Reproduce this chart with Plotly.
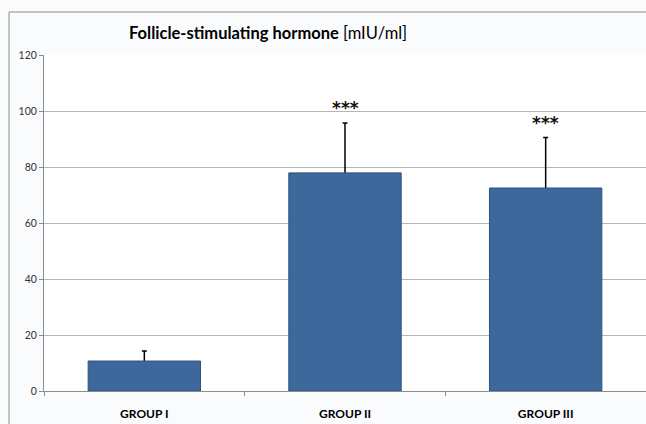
import plotly.graph_objects as go

groups = ["GROUP I", "GROUP II", "GROUP III"]
fsh_mean = [10.7, 77.9, 72.5]
fsh_sd = [3.6, 17.8, 18.0]
significance = ["", "***", "***"]
y_ticks = [0, 20, 40, 60, 80, 100, 120]

fig = go.Figure()
# error bars (drawn beneath the bars so the lower cap is hidden inside each bar)
fig.add_trace(go.Scatter(
    x=groups, y=[m + s for m, s in zip(fsh_mean, fsh_sd)], mode="markers",
    marker=dict(size=1, color="rgba(0,0,0,0)"),
    error_y=dict(type="data", array=[0] * len(fsh_sd), arrayminus=[s + 2 for s in fsh_sd],
                 symmetric=False, color="#000000", thickness=1.5, width=2.5),
    showlegend=False, hoverinfo="skip", xaxis="x", yaxis="y",
))
fig.add_trace(go.Bar(
    x=groups, y=fsh_mean, width=0.56,
    marker=dict(color="#3D689C", line=dict(color="#2E527E", width=1)),
    showlegend=False, xaxis="x", yaxis="y2",
))

for g, m, s, t in zip(groups, fsh_mean, fsh_sd, significance):
    if t:
        fig.add_annotation(x=g, y=m + s, text="<b>" + t + "</b>", showarrow=False,
                           yanchor="bottom", yshift=3,
                           font=dict(family="DejaVu Sans", size=17, color="#111111"))

fig.add_shape(type="rect", xref="paper", yref="paper",
              x0=-0.0581, x1=1.2, y0=-0.3, y1=1.128,
              line=dict(color="#8C8C8C", width=1), fillcolor="rgba(0,0,0,0)", layer="below")

fig.add_annotation(xref="paper", yref="paper", x=(268 - 44) / 602, y=1 + (55 - 33) / 336,
                   text="<b>Follicle-stimulating hormone</b> [mIU/ml]", showarrow=False,
                   xanchor="center", yanchor="middle",
                   font=dict(family="Lato", size=16.5, color="#000000"))

fig.update_layout(
    width=646, height=424,
    margin=dict(l=44, r=0, t=55, b=33),
    paper_bgcolor="#FAFBFD", plot_bgcolor="#FFFFFF",
    bargap=0.44,
    xaxis=dict(range=[-0.5, 2.5], showline=True, linecolor="#8C8C8C", linewidth=1,
               ticks="outside", tickson="boundaries", ticklen=4, tickcolor="#8C8C8C",
               tickfont=dict(family="Lato", size=12, color="#000000", weight="bold"),
               ticklabelstandoff=12, showgrid=False),
    yaxis=dict(range=[0, 120], tickvals=y_ticks, showline=True, linecolor="#8C8C8C", linewidth=1,
               ticks="outside", ticklen=4, tickcolor="#8C8C8C",
               gridcolor="#B5B5B5", gridwidth=1, zeroline=False,
               tickfont=dict(family="Lato", size=10.5, color="#333333")),
    yaxis2=dict(range=[0, 120], overlaying="y", visible=False, showgrid=False),
)

fig.write_html("out.html", config={"displayModeBar": False},
               post_script="document.body.style.margin='0';document.body.style.overflow='hidden';")
